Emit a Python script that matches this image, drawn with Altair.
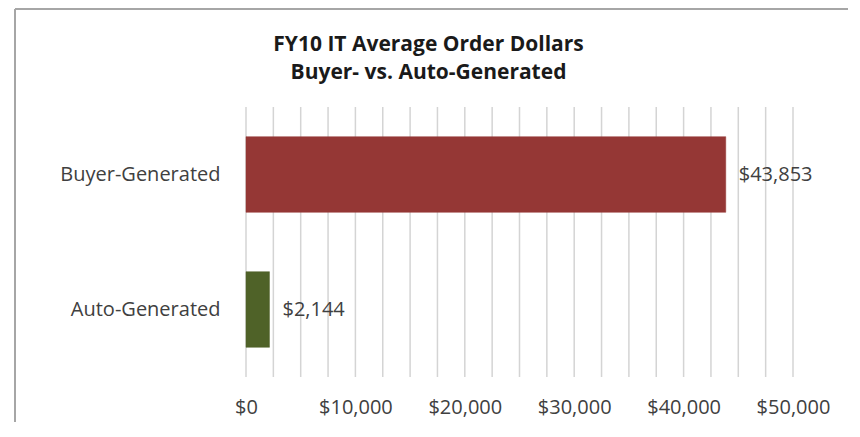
import altair as alt
import pandas as pd

categories = ["Buyer-Generated", "Auto-Generated"]
values = [43853, 2144]
labels = ["$43,853", "$2,144"]
colors = ["#953735", "#4f6228"]
grid_values = [i * 2500 for i in range(21)]
tick_values = [0, 10000, 20000, 30000, 40000, 50000]
title_lines = ["FY10 IT Average Order Dollars", "Buyer- vs. Auto-Generated"]

df = pd.DataFrame({"cat": categories, "val": values, "lab": labels, "col": colors})
grid_df = pd.DataFrame({"g": grid_values})

FONT = "Open Sans"
FS = 20

xscale = alt.Scale(domain=[0, 50000], nice=False)
xaxis = alt.Axis(values=tick_values, domain=False, ticks=False, labelPadding=20,
                 labelFontSize=FS, labelColor="#404040", labelFont=FONT,
                 format="$,.0f", grid=False, labelOverlap=False, labelFlush=False)

grid = alt.Chart(grid_df).mark_rule(color="#d4d4d4", strokeWidth=1.5).encode(
    x=alt.X("g:Q", scale=xscale, axis=xaxis, title=None)
)

base = alt.Chart(df)

bars = base.mark_bar(strokeWidth=1, strokeOpacity=0.5).encode(
    y=alt.Y("cat:N", sort=categories, title=None,
            scale=alt.Scale(paddingInner=0.44, paddingOuter=0.22),
            axis=alt.Axis(domain=False, ticks=False, labelPadding=26, labelFontSize=FS,
                          labelColor="#404040", labelFont=FONT, grid=False)),
    x=alt.X("val:Q", title=None, scale=xscale, axis=xaxis),
    color=alt.Color("col:N", scale=None),
    stroke=alt.Stroke("col:N", scale=None),
)

text = base.mark_text(align="left", dx=13, fontSize=FS, color="#404040", font=FONT).encode(
    y=alt.Y("cat:N", sort=categories),
    x=alt.X("val:Q", scale=xscale, axis=xaxis, title=None),
    text="lab:N",
)

frame_left = alt.Chart(df).mark_rule(color="#a6a6a6", strokeWidth=2).encode(
    x=alt.value(-231), y=alt.value(-98), y2=alt.value(330))
frame_top = alt.Chart(df).mark_rule(color="#a6a6a6", strokeWidth=2).encode(
    x=alt.value(-231), x2=alt.value(611), y=alt.value(-98))
frame_right = alt.Chart(df).mark_rule(color="#a6a6a6", strokeWidth=2).encode(
    x=alt.value(611), y=alt.value(-98), y2=alt.value(330))

chart = alt.layer(grid, frame_left, frame_top, frame_right, bars, text).properties(
    width=547,
    height=270,
    autosize=alt.AutoSizeParams(type="none"),
    padding={"left": 238, "top": 99, "right": 55, "bottom": 45},
    title=alt.TitleParams(title_lines, anchor="middle", dx=-91, dy=75, fontSize=21, font=FONT,
                          fontWeight="bold", color="#1a1a1a", lineHeight=28, offset=0),
).configure_view(stroke=None)

chart.save("out.html", embed_options={"renderer": "svg", "actions": False})
